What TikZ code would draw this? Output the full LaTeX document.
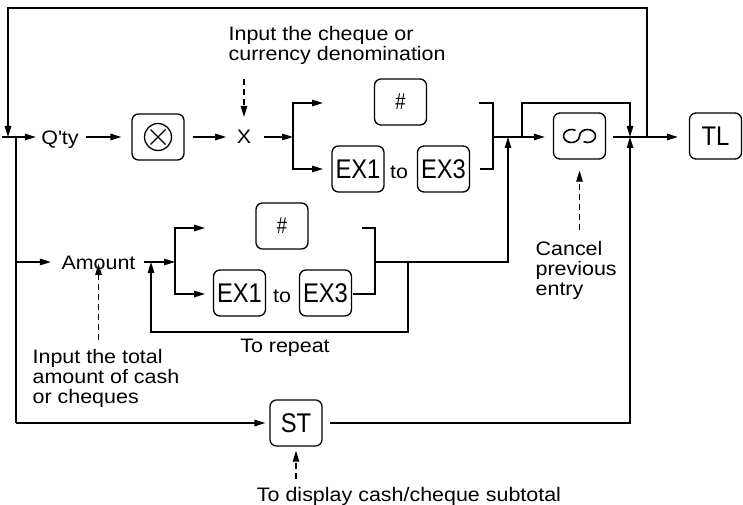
\documentclass[tikz,border=0pt]{standalone}
\usepackage{fontspec}
\setmainfont{Liberation Sans}[FakeStretch=1.1]
\newfontfamily\keyfont{Liberation Sans}[FakeStretch=0.88]
\newfontfamily\hashfont{Liberation Sans}[FakeStretch=0.8]
\usetikzlibrary{arrows.meta}
\newcommand{\txtsize}{\fontsize{19.5}{20}\selectfont}
\newcommand{\keysize}{\keyfont\fontsize{27}{27}\selectfont}
\newcommand{\hashkey}{{\hashfont\fontsize{23}{23}\selectfont\#}}

\begin{document}
\begin{tikzpicture}[
  x=1pt,y=-1pt,line width=1.3pt,
  key/.style={draw,rounded corners=6.5pt,minimum width=52pt,minimum height=46pt,
              inner sep=0pt,font=\keysize},
  txt/.style={inner sep=0pt,font=\txtsize},
  flow/.style={-{Triangle[length=11pt,width=6.5pt]}},
  note/.style={flow,dash pattern=on 6pt off 4pt}
]
\useasboundingbox (0,0) rectangle (743,505);
% keys and labels
\node[txt,anchor=base] (qty) at (60,145) {Q\textquotesingle ty};
\node[key] (mul) at (158,137) {};
\node[txt,anchor=base] (xin) at (244,144) {X};
\node[key] (hashA) at (400.5,102) {\hashkey};
\node[key] (exoneA) at (358,169) {EX1};
\node[txt,anchor=base] (toA) at (399,178) {to};
\node[key] (exthreeA) at (443.5,169) {EX3};
\node[key] (cancel) at (579.5,136) {};
\node[key] (tl) at (715.5,136) {TL};
\node[txt,anchor=base] (amount) at (98.5,269) {Amount};
\node[key] (hashB) at (282,226) {\hashkey};
\node[key] (exoneB) at (239.5,293) {EX1};
\node[txt,anchor=base] (toB) at (282,302) {to};
\node[key] (exthreeB) at (325.5,293) {EX3};
\node[key] (st) at (296,423) {ST};
\node[txt,align=left,anchor=north west] (chq) at (228,26) {Input the cheque or\\currency denomination};
\node[txt,align=left,anchor=north west] (cnl) at (535,241) {Cancel\\previous\\entry};
\node[txt,align=left,anchor=north west] (tot) at (32,349) {Input the total\\amount of cash\\or cheques};
\node[txt,anchor=base] (rep) at (285,352) {To repeat};
\node[txt,anchor=base] (sub) at (409,501) {To display cash/cheque subtotal};
% key symbols
\begin{scope}[shift={(mul.center)},line width=1.3pt]
  \draw (0,0) circle[radius=13.5];
  \draw (-7.5,-7.5) -- (7.5,7.5) (-7.5,7.5) -- (7.5,-7.5);
\end{scope}
\begin{scope}[shift={(cancel.center)}]
  \draw[line width=1.6pt] (-4,-5.63) arc[start angle=-60,end angle=-360,x radius=8,y radius=6.5]
    arc[start angle=-180,end angle=120,x radius=8,y radius=6.5];
\end{scope}
% junctions
\coordinate (start) at (2,137);
\coordinate (jQ) at (8,137);
\coordinate (loopTop) at (8,8);
\coordinate (jTL) at (647,137);
\coordinate (jL) at (16,137);
\coordinate (jAm) at (16,262);
\coordinate (jST) at (16,423);
\coordinate (brA) at (293,137);
\coordinate (aAt) at (323,103);
\coordinate (aAb) at (323,169);
\coordinate (bAt) at (479,103);
\coordinate (bAb) at (480,169);
\coordinate (mA) at (493,137);
\coordinate (jA) at (508,137);
\coordinate (jBy) at (522,137);
\coordinate (byTop) at (630,103);
\coordinate (jC) at (630,137);
\coordinate (brB) at (175,262);
\coordinate (aBt) at (205,228);
\coordinate (aBb) at (205,294);
\coordinate (bBt) at (362,228);
\coordinate (bBb) at (353,294);
\coordinate (mB) at (375,262);
\coordinate (rpt) at (408,262);
\coordinate (rptL) at (151,332);
\coordinate (jRp) at (151,262);
% main row
\draw[flow] (jTL) |- (loopTop) -- (jQ);
\draw[flow,shorten >=5pt] (start) -- (qty.west |- start);
\draw (jL) -- (jST);
\draw[flow,shorten <=7pt,shorten >=10pt] (qty.east |- mul) -- (mul);
\draw[flow,shorten <=8pt,shorten >=10pt] (mul) -- (xin.west |- mul);
\draw[flow,shorten <=12pt] (xin.east |- brA) -- (brA);
\draw[flow] (brA) |- (aAt);
\draw[flow] (brA) |- (aAb);
\draw (bAt) -| (mA) |- (bAb);
\draw[flow,shorten >=8pt] (mA) -- (cancel.west |- mA);
\draw[flow] (jBy) |- (byTop) -- (jC);
\draw[flow,shorten <=7pt,shorten >=11pt] (cancel.east |- jC) -- (tl.west |- jC);
% amount row
\draw[flow,shorten >=10pt] (jAm) -- (amount.west |- jAm);
\draw[flow,shorten <=8pt] (amount.east |- brB) -- (brB);
\draw[flow] (brB) |- (aBt);
\draw[flow] (brB) |- (aBb);
\draw (bBt) -| (mB) |- (bBb);
\draw[flow] (mB) -| (jA);
\draw[flow] (rpt) |- (rptL) -- (jRp);
% subtotal row
\draw[flow,shorten >=4pt] (jST) -- (st);
\draw[flow,shorten <=7pt] (st) -| (jC);
% notes
\draw[note,shorten <=14pt,shorten >=13pt] (chq.south -| xin) -- (xin.north);
\draw[note,shorten <=11pt,shorten >=11pt] (cnl.north -| cancel) -- (cancel);
\draw[note,shorten <=9pt,shorten >=9pt] (tot.north -| amount) -- (amount.north);
\draw[note,shorten <=7pt,shorten >=4pt] (sub.north -| st) -- (st);
\end{tikzpicture}
\end{document}
